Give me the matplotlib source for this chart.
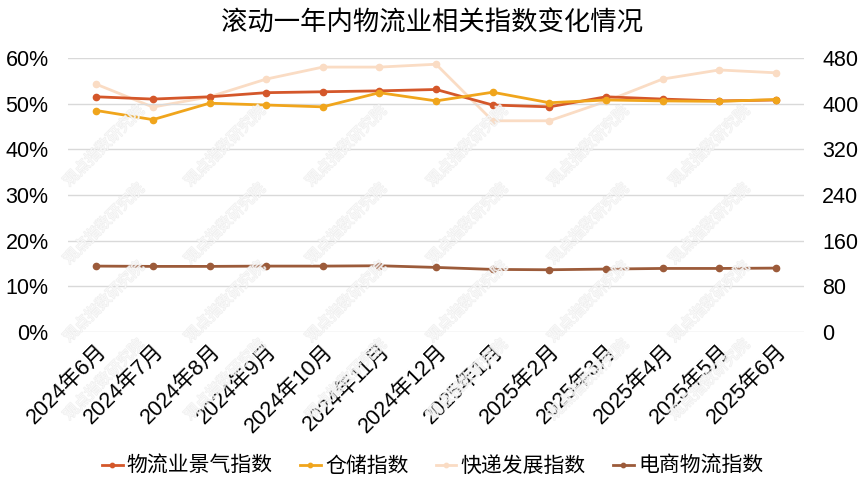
import numpy as np
import matplotlib.pyplot as plt
import matplotlib.patheffects as pe

plt.rcParams['font.family'] = ['Liberation Sans', 'Noto Sans CJK SC', 'DejaVu Sans']

# 数据
months = ['2024年6月', '2024年7月', '2024年8月', '2024年9月', '2024年10月', '2024年11月',
          '2024年12月', '2025年1月', '2025年2月', '2025年3月', '2025年4月', '2025年5月', '2025年6月']
lpi = [51.5, 51.0, 51.5, 52.4, 52.6, 52.8, 53.1, 49.7, 49.3, 51.5, 51.0, 50.6, 50.8]        # 物流业景气指数 (%)
storage = [48.5, 46.5, 50.1, 49.7, 49.3, 52.4, 50.6, 52.5, 50.2, 50.8, 50.6, 50.5, 50.9]    # 仓储指数 (%)
express = [434, 394, 412, 443, 464, 464, 469, 370, 370, 404, 443, 459, 454]                  # 快递发展指数
ecom = [115.6, 115.1, 115.1, 115.6, 115.6, 116.2, 113.3, 109.8, 109.2, 110.4, 111.5, 111.5, 112.1]  # 电商物流指数

c_lpi = '#d4572a'
c_sto = '#f0a51c'
c_exp = '#fadcc4'
c_eco = '#9c5b3a'

fig = plt.figure(figsize=(8.65, 4.87), dpi=100)
ax1 = fig.add_axes([0.0786, 0.318, 0.851, 0.563])
ax2 = ax1.twinx()
x = np.arange(len(months))

ax1.set_zorder(ax2.get_zorder() + 1)
ax1.patch.set_visible(False)

l1, = ax1.plot(x, np.array(lpi) / 100, '-o', color=c_lpi, lw=2, ms=4.5, label='物流业景气指数')
l2, = ax1.plot(x, np.array(storage) / 100, '-o', color=c_sto, lw=2, ms=4.5, label='仓储指数')
l3, = ax2.plot(x, express, '-o', color=c_exp, lw=2, ms=4.5, label='快递发展指数')
l4, = ax2.plot(x, ecom, '-o', color=c_eco, lw=2, ms=4.5, label='电商物流指数')

ax1.set_ylim(0, 0.6)
ax1.set_yticks(np.arange(0, 0.61, 0.1))
ax1.set_yticklabels(['%d%%' % v for v in range(0, 61, 10)])
ax2.set_ylim(0, 480)
ax2.set_yticks(np.arange(0, 481, 80))
ax1.set_xlim(-0.5, len(months) - 0.5)
ax1.set_xticks(x)
ax1.set_xticklabels(months, rotation=45, ha='right', rotation_mode='anchor')

ax1.grid(axis='y', color='#d9d9d9', lw=1)
ax1.set_axisbelow(True)
for a in (ax1, ax2):
    for s in a.spines.values():
        s.set_visible(False)
    a.tick_params(length=0, labelsize=15.5, colors='#000000')
ax1.tick_params(axis='y', pad=14)
ax2.tick_params(axis='y', pad=13)
ax1.tick_params(axis='x', pad=6)

fig.text(0.5, 0.953, '滚动一年内物流业相关指数变化情况', ha='center', va='center', fontsize=19,
         family=['Noto Sans CJK SC', 'DejaVu Sans'])

fig.legend(handles=[l1, l2, l3, l4], loc='center', bbox_to_anchor=(0.5, 0.043), ncol=4,
           frameon=False, handlelength=1.0, handletextpad=0.2, columnspacing=1.3,
           prop={'family': ['Noto Sans CJK SC', 'DejaVu Sans'], 'size': 15}, markerscale=0.7)

# 水印
for yy in np.arange(0.22, 0.85, 0.16):
    for xx in np.arange(0.12, 0.95, 0.14):
        fig.text(xx, yy, '观点指数研究院', rotation=45, ha='center', va='center', fontsize=11,
                 color='white', alpha=0.6, family=['Noto Sans CJK SC'], zorder=10,
                 path_effects=[pe.withStroke(linewidth=1.0, foreground='#e6e6e6')])

fig.savefig('out.png', dpi=100)
